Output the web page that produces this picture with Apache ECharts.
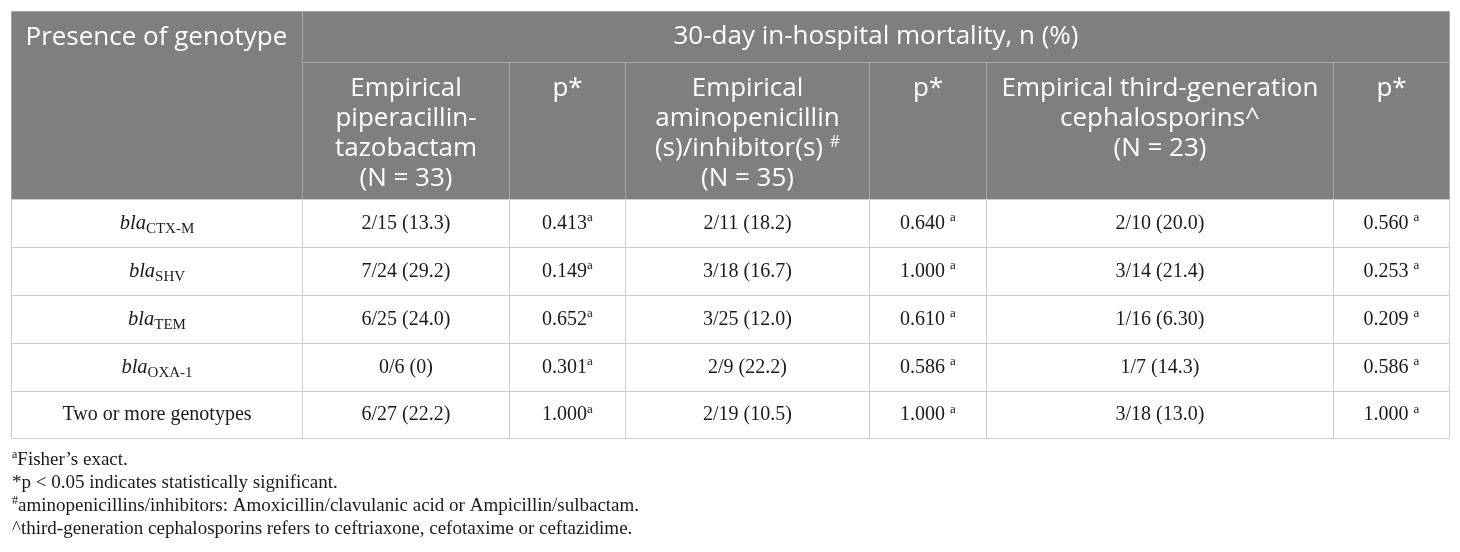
<!DOCTYPE html>
<html>
<head>
<meta charset="utf-8">
<script src="https://cdn.jsdelivr.net/npm/echarts@6/dist/echarts.min.js"></script>
<style>
  html, body { margin: 0; padding: 0; background: #fff; }
  #table { width: 1460px; height: 552px; }
</style>
</head>
<body>
<div id="table"></div>
<script>
// table content
const cornerHeader = 'Presence of genotype';
const groupHeader = '30-day in-hospital mortality, n (%)';
const columnHeaders = [
  'Empirical\npiperacillin-\ntazobactam\n(N = 33)',
  'p*',
  'Empirical\naminopenicillin\n(s)/inhibitor(s) {hsup|#}\n(N = 35)',
  'p*',
  'Empirical third-generation\ncephalosporins^\n(N = 23)',
  'p*'
];
const genotypes = ['CTX-M', 'SHV', 'TEM', 'OXA-1', 'Two or more genotypes'];
const pipTaz = ['2/15 (13.3)', '7/24 (29.2)', '6/25 (24.0)', '0/6 (0)', '6/27 (22.2)'];
const pipTazP = ['0.413', '0.149', '0.652', '0.301', '1.000'];
const aminoPen = ['2/11 (18.2)', '3/18 (16.7)', '3/25 (12.0)', '2/9 (22.2)', '2/19 (10.5)'];
const aminoPenP = ['0.640', '1.000', '0.610', '0.586', '1.000'];
const ceph = ['2/10 (20.0)', '3/14 (21.4)', '1/16 (6.30)', '1/7 (14.3)', '3/18 (13.0)'];
const cephP = ['0.560', '0.253', '0.209', '0.586', '1.000'];
const footnotes = [
  '{sup|a}Fisher\u2019s exact.',
  '*p < 0.05 indicates statistically significant.',
  '{sup|#}aminopenicillins/inhibitors: Amoxicillin/clavulanic acid or Ampicillin/sulbactam.',
  '^third-generation cephalosporins refers to ceftriaxone, cefotaxime or ceftazidime.'
];

// grid lines of the table (in axis units = px inside the grid)
const colEdges = [0, 291, 498, 614, 858, 975, 1322, 1438];
const rowEdges = [0, 51, 188, 236, 284, 332, 380, 427];

const SANS = '"Open Sans", "Noto Sans", sans-serif';
const SERIF = '"Liberation Serif", "DejaVu Serif", serif';
const INK = '#1a1a1a';

const bodyColumns = [pipTaz, pipTazP, aminoPen, aminoPenP, ceph, cephP];
const cells = [];
cells.push({ c: [0, 1], r: [0, 2], kind: 'corner', text: cornerHeader });
cells.push({ c: [1, 7], r: [0, 1], kind: 'group', text: groupHeader });
columnHeaders.forEach((t, i) => cells.push({ c: [i + 1, i + 2], r: [1, 2], kind: 'head', text: t }));
genotypes.forEach((g, i) => {
  const r = [i + 2, i + 3];
  const label = g.indexOf(' ') > 0 ? g : '{i|bla}{sub|' + g + '}';
  cells.push({ c: [0, 1], r, kind: 'body', text: label });
  bodyColumns.forEach((col, j) => {
    let t = col[i];
    if (j % 2 === 1) t = t + (j === 1 ? '' : ' ') + '{sup|a}';
    cells.push({ c: [j + 1, j + 2], r, kind: 'body', text: t });
  });
});

const bodyRich = {
  i: { fontFamily: SERIF, fontStyle: 'italic', fontSize: 20.5, lineHeight: 24, color: INK },
  sub: { fontFamily: SERIF, fontSize: 15, lineHeight: 16, padding: [11, 0, 0, 0], color: INK },
  sup: { fontFamily: SERIF, fontSize: 13, lineHeight: 14, padding: [0, 0, 11, 0], color: INK }
};
const headRich = {
  hsup: { fontFamily: SANS, fontSize: 16, lineHeight: 16, padding: [0, 0, 13, 0], color: '#fff' }
};

function renderCell(params, api) {
  const cell = cells[params.dataIndex];
  const a = api.coord([api.value(0), api.value(2)]);
  const b = api.coord([api.value(1), api.value(3)]);
  const x = Math.round(a[0]) + 0.5;
  const y = Math.round(a[1]) + 0.5;
  const w = Math.round(b[0]) - Math.round(a[0]);
  const h = Math.round(b[1]) - Math.round(a[1]);
  const header = cell.kind !== 'body';
  let tx = x + w / 2, ty = y + h / 2, align = 'center', vAlign = 'middle';
  if (cell.kind === 'corner') { tx = x + 14; ty = y + 26; align = 'left'; }
  if (cell.kind === 'head') { ty = y + 11; vAlign = 'top'; }
  return {
    type: 'group',
    children: [
      {
        type: 'rect',
        shape: { x, y, width: w, height: h },
        style: { fill: header ? '#7f7f7f' : '#fff', stroke: header ? '#a8a8a8' : '#cdcdcd', lineWidth: 1 }
      },
      {
        type: 'text',
        style: header ? {
          x: tx, y: ty, text: cell.text, align, verticalAlign: vAlign,
          fontFamily: SANS, fontSize: 26, lineHeight: 30, fill: '#fff', rich: headRich
        } : {
          x: tx, y: ty, text: cell.text, align, verticalAlign: vAlign,
          fontFamily: SERIF, fontSize: 20, lineHeight: 24, fill: INK, rich: bodyRich
        }
      }
    ]
  };
}

const chart = echarts.init(document.getElementById('table'));
chart.setOption({
  animation: false,
  grid: { left: 11, top: 11, width: 1438, height: 427 },
  xAxis: { type: 'value', min: 0, max: 1438, show: false },
  yAxis: { type: 'value', min: 0, max: 427, inverse: true, show: false },
  graphic: footnotes.map((t, i) => ({
    type: 'text',
    x: 12,
    y: 460 + i * 23,
    style: {
      text: t, verticalAlign: 'middle', fontFamily: SERIF, fontSize: 19, fill: INK,
      rich: { sup: { fontFamily: SERIF, fontSize: 12, lineHeight: 12, padding: [0, 0, 10, 0], color: INK } }
    }
  })),
  series: [{
    type: 'custom',
    renderItem: renderCell,
    encode: { x: [0, 1], y: [2, 3] },
    data: cells.map(cell => [colEdges[cell.c[0]], colEdges[cell.c[1]], rowEdges[cell.r[0]], rowEdges[cell.r[1]]])
  }]
});
</script>
</body>
</html>
